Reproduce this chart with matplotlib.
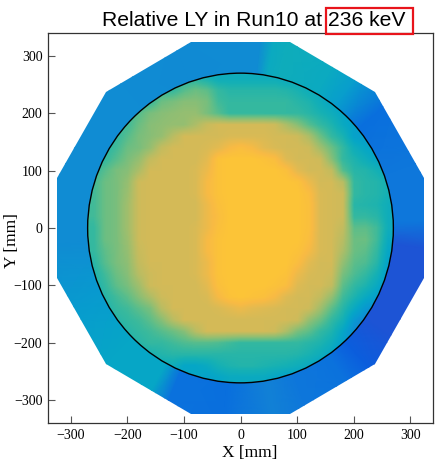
import numpy as np
import matplotlib
matplotlib.use("Agg")
import matplotlib.pyplot as plt
from matplotlib.colors import LinearSegmentedColormap
from matplotlib.patches import Polygon, Circle, Rectangle

plt.rcParams["font.family"] = "Liberation Serif"

# parula-like colour anchors (position, rgb)
parula_pts = [
    (0.000, (0.208, 0.166, 0.529)),
    (0.095, (0.125, 0.324, 0.830)),
    (0.127, (0.012, 0.388, 0.882)),
    (0.190, (0.050, 0.459, 0.864)),
    (0.254, (0.079, 0.520, 0.831)),
    (0.317, (0.034, 0.597, 0.820)),
    (0.381, (0.023, 0.653, 0.777)),
    (0.444, (0.084, 0.693, 0.706)),
    (0.508, (0.218, 0.725, 0.619)),
    (0.571, (0.395, 0.746, 0.524)),
    (0.635, (0.571, 0.749, 0.449)),
    (0.698, (0.718, 0.741, 0.390)),
    (0.762, (0.851, 0.730, 0.336)),
    (0.825, (0.974, 0.731, 0.267)),
    (0.889, (0.996, 0.786, 0.197)),
    (0.952, (0.959, 0.895, 0.113)),
    (1.000, (0.976, 0.983, 0.054)),
]
parula = LinearSegmentedColormap.from_list("parula", parula_pts)

# binned relative LY inside the fiducial circle, 20 mm bins (rows top -> bottom)
x_bins = np.arange(-260, 261, 20)
y_bins = np.arange(260, -261, -20)
ly_map = np.array([
    [0.48, 0.48, 0.48, 0.48, 0.48, 0.48, 0.48, 0.48, 0.48, 0.48, 0.45, 0.42, 0.42, 0.42, 0.42, 0.42, 0.42, 0.40, 0.40, 0.40, 0.40, 0.40, 0.40, 0.40, 0.40, 0.40, 0.40],
    [0.50, 0.50, 0.50, 0.50, 0.50, 0.50, 0.50, 0.50, 0.55, 0.58, 0.56, 0.50, 0.48, 0.48, 0.48, 0.48, 0.48, 0.47, 0.45, 0.42, 0.40, 0.40, 0.40, 0.40, 0.40, 0.40, 0.40],
    [0.50, 0.50, 0.50, 0.50, 0.50, 0.50, 0.58, 0.60, 0.62, 0.62, 0.60, 0.52, 0.50, 0.50, 0.50, 0.50, 0.50, 0.50, 0.48, 0.46, 0.42, 0.38, 0.36, 0.36, 0.36, 0.36, 0.36],
    [0.52, 0.52, 0.52, 0.52, 0.55, 0.60, 0.62, 0.63, 0.64, 0.64, 0.60, 0.55, 0.50, 0.50, 0.50, 0.50, 0.50, 0.50, 0.50, 0.48, 0.45, 0.42, 0.38, 0.36, 0.36, 0.36, 0.36],
    [0.52, 0.52, 0.52, 0.52, 0.58, 0.62, 0.63, 0.64, 0.64, 0.68, 0.73, 0.75, 0.75, 0.75, 0.75, 0.75, 0.74, 0.68, 0.62, 0.55, 0.50, 0.46, 0.40, 0.36, 0.34, 0.34, 0.34],
    [0.50, 0.50, 0.50, 0.55, 0.60, 0.62, 0.64, 0.70, 0.75, 0.75, 0.75, 0.75, 0.76, 0.76, 0.76, 0.76, 0.75, 0.75, 0.74, 0.68, 0.58, 0.50, 0.45, 0.36, 0.34, 0.34, 0.34],
    [0.48, 0.48, 0.52, 0.58, 0.60, 0.64, 0.72, 0.75, 0.75, 0.75, 0.76, 0.78, 0.82, 0.84, 0.82, 0.78, 0.76, 0.75, 0.75, 0.74, 0.66, 0.58, 0.50, 0.42, 0.38, 0.36, 0.36],
    [0.48, 0.50, 0.55, 0.60, 0.64, 0.72, 0.75, 0.75, 0.75, 0.75, 0.78, 0.86, 0.87, 0.87, 0.87, 0.86, 0.84, 0.77, 0.75, 0.75, 0.74, 0.62, 0.50, 0.46, 0.42, 0.38, 0.36],
    [0.50, 0.55, 0.60, 0.62, 0.68, 0.75, 0.75, 0.75, 0.75, 0.76, 0.80, 0.86, 0.87, 0.87, 0.87, 0.87, 0.87, 0.85, 0.78, 0.75, 0.75, 0.72, 0.55, 0.48, 0.47, 0.44, 0.40],
    [0.52, 0.58, 0.60, 0.64, 0.74, 0.75, 0.75, 0.75, 0.75, 0.76, 0.82, 0.86, 0.87, 0.87, 0.87, 0.87, 0.87, 0.87, 0.86, 0.80, 0.75, 0.75, 0.70, 0.50, 0.48, 0.47, 0.44],
    [0.52, 0.58, 0.60, 0.65, 0.74, 0.75, 0.75, 0.75, 0.75, 0.76, 0.82, 0.86, 0.87, 0.87, 0.87, 0.87, 0.87, 0.87, 0.87, 0.84, 0.76, 0.75, 0.74, 0.50, 0.48, 0.47, 0.44],
    [0.52, 0.58, 0.60, 0.66, 0.74, 0.75, 0.75, 0.75, 0.75, 0.75, 0.80, 0.85, 0.87, 0.87, 0.87, 0.87, 0.87, 0.87, 0.87, 0.85, 0.76, 0.75, 0.74, 0.48, 0.47, 0.46, 0.42],
    [0.52, 0.58, 0.60, 0.66, 0.74, 0.75, 0.75, 0.75, 0.75, 0.75, 0.80, 0.84, 0.87, 0.87, 0.87, 0.87, 0.87, 0.87, 0.87, 0.85, 0.76, 0.75, 0.74, 0.50, 0.50, 0.48, 0.42],
    [0.50, 0.58, 0.60, 0.66, 0.74, 0.75, 0.75, 0.75, 0.75, 0.76, 0.80, 0.85, 0.87, 0.87, 0.87, 0.87, 0.87, 0.87, 0.87, 0.85, 0.76, 0.75, 0.72, 0.56, 0.56, 0.52, 0.42],
    [0.50, 0.58, 0.60, 0.65, 0.74, 0.75, 0.75, 0.75, 0.75, 0.76, 0.82, 0.86, 0.87, 0.87, 0.87, 0.87, 0.87, 0.87, 0.87, 0.84, 0.76, 0.75, 0.70, 0.58, 0.58, 0.52, 0.40],
    [0.50, 0.56, 0.60, 0.64, 0.73, 0.75, 0.75, 0.75, 0.75, 0.76, 0.82, 0.86, 0.87, 0.87, 0.87, 0.87, 0.87, 0.87, 0.86, 0.82, 0.76, 0.75, 0.68, 0.58, 0.56, 0.50, 0.38],
    [0.48, 0.55, 0.60, 0.63, 0.72, 0.75, 0.75, 0.75, 0.75, 0.76, 0.80, 0.86, 0.87, 0.87, 0.87, 0.87, 0.87, 0.87, 0.84, 0.78, 0.75, 0.75, 0.64, 0.56, 0.54, 0.48, 0.36],
    [0.46, 0.52, 0.58, 0.62, 0.70, 0.74, 0.75, 0.75, 0.75, 0.76, 0.80, 0.86, 0.87, 0.87, 0.87, 0.87, 0.87, 0.86, 0.80, 0.76, 0.75, 0.74, 0.60, 0.54, 0.50, 0.44, 0.34],
    [0.45, 0.50, 0.56, 0.60, 0.66, 0.74, 0.75, 0.75, 0.75, 0.75, 0.78, 0.85, 0.87, 0.87, 0.87, 0.87, 0.86, 0.84, 0.77, 0.75, 0.75, 0.72, 0.56, 0.50, 0.46, 0.40, 0.32],
    [0.44, 0.48, 0.52, 0.56, 0.62, 0.68, 0.74, 0.75, 0.75, 0.75, 0.76, 0.82, 0.86, 0.87, 0.86, 0.85, 0.82, 0.77, 0.75, 0.75, 0.72, 0.64, 0.52, 0.46, 0.40, 0.35, 0.30],
    [0.44, 0.46, 0.50, 0.52, 0.56, 0.60, 0.70, 0.75, 0.75, 0.75, 0.75, 0.76, 0.78, 0.80, 0.78, 0.77, 0.76, 0.75, 0.75, 0.74, 0.66, 0.56, 0.48, 0.40, 0.32, 0.28, 0.28],
    [0.44, 0.45, 0.48, 0.50, 0.52, 0.56, 0.62, 0.70, 0.75, 0.75, 0.75, 0.75, 0.75, 0.75, 0.75, 0.75, 0.75, 0.75, 0.74, 0.64, 0.58, 0.50, 0.44, 0.32, 0.26, 0.24, 0.24],
    [0.44, 0.44, 0.45, 0.48, 0.50, 0.52, 0.55, 0.58, 0.62, 0.70, 0.75, 0.75, 0.75, 0.75, 0.75, 0.75, 0.74, 0.68, 0.60, 0.56, 0.50, 0.46, 0.38, 0.28, 0.24, 0.24, 0.24],
    [0.45, 0.45, 0.45, 0.47, 0.48, 0.50, 0.50, 0.52, 0.54, 0.55, 0.55, 0.54, 0.52, 0.50, 0.50, 0.50, 0.50, 0.50, 0.50, 0.48, 0.46, 0.42, 0.35, 0.28, 0.28, 0.28, 0.28],
    [0.45, 0.45, 0.45, 0.45, 0.45, 0.45, 0.47, 0.48, 0.48, 0.48, 0.48, 0.48, 0.48, 0.48, 0.48, 0.48, 0.48, 0.48, 0.47, 0.45, 0.42, 0.38, 0.30, 0.30, 0.30, 0.30, 0.30],
    [0.42, 0.42, 0.42, 0.42, 0.42, 0.42, 0.42, 0.42, 0.38, 0.38, 0.40, 0.44, 0.46, 0.47, 0.47, 0.46, 0.45, 0.44, 0.42, 0.40, 0.36, 0.36, 0.36, 0.36, 0.36, 0.36, 0.36],
    [0.38, 0.38, 0.38, 0.38, 0.38, 0.38, 0.38, 0.38, 0.38, 0.38, 0.36, 0.38, 0.40, 0.40, 0.40, 0.40, 0.38, 0.36, 0.36, 0.36, 0.36, 0.36, 0.36, 0.36, 0.36, 0.36, 0.36],
])

# outer ring (outside the circle) relative LY vs azimuth [deg]
ring_angle = [-6, 2, 20, 40, 52, 60, 75, 80, 84, 110, 130, 160, 185, 205, 225,
              241, 247, 265, 280, 290, 305, 313, 325, 354, 362]
ring_ly = [0.10, 0.20, 0.20, 0.17, 0.34, 0.40, 0.42, 0.40, 0.28, 0.27, 0.28, 0.28, 0.28,
           0.33, 0.38, 0.38, 0.18, 0.17, 0.24, 0.20, 0.18, 0.12, 0.10, 0.10, 0.20]

r_fid = 270
apothem = 324
half = 10  # half bin width

fig = plt.figure(figsize=(4.36, 4.62), dpi=100)
ax = fig.add_axes([48 / 436, 39 / 462, 385 / 436, 390 / 462])

# dodecagon outline of the detector
vang = np.deg2rad(np.arange(15, 360, 30))
rv = apothem / np.cos(np.deg2rad(15))
dodec = Polygon(np.column_stack([rv * np.cos(vang), rv * np.sin(vang)]),
                closed=True, transform=ax.transData)

th = np.deg2rad(ring_angle)
rr = np.array([230, 360])
RX = np.outer(np.cos(th), rr)
RY = np.outer(np.sin(th), rr)
RC = np.column_stack([ring_ly, ring_ly])
mesh = ax.pcolormesh(RX, RY, RC, cmap=parula, vmin=0, vmax=1, shading="gouraud", zorder=1)
mesh.set_clip_path(dodec)

ext = (x_bins[0] - half, x_bins[-1] + half, y_bins[-1] - half, y_bins[0] + half)
im = ax.imshow(ly_map, extent=ext, origin="upper", cmap=parula,
               vmin=0, vmax=1, interpolation="bilinear", zorder=2)
im.set_clip_path(Circle((0, 0), r_fid, transform=ax.transData))

ax.add_patch(Circle((0, 0), r_fid, fill=False, ec="black", lw=1.0, zorder=3))

ax.set_aspect("auto")
ax.set_xlim(-340, 340)
ax.set_ylim(-340, 340)
ax.set_xticks([-300, -200, -100, 0, 100, 200, 300])
ax.set_yticks([-300, -200, -100, 0, 100, 200, 300])
ax.tick_params(direction="in", length=5, width=0.8, color="#555555", labelsize=10,
               pad=4, top=False, right=False)
for s in ax.spines.values():
    s.set_color("#333333")
    s.set_linewidth(0.9)

ax.set_xlabel("X [mm]", fontsize=12.5, va="center")
ax.xaxis.set_label_coords(0.525, -0.077)
ax.set_ylabel("Y [mm]", fontsize=12.5, va="center")
ax.yaxis.set_label_coords(-0.094, 0.469)

fig.text(253.5 / 436, 1 - 26 / 462, "Relative LY in Run10 at 236 keV", family="Liberation Sans",
         fontsize=15.2, ha="center", va="baseline")
fig.add_artist(Rectangle((326 / 436, 1 - 34 / 462), 87 / 436, 26 / 462, fill=False,
                         ec="#e8141b", lw=1.6, transform=fig.transFigure))

fig.savefig("out.png", dpi=100)
